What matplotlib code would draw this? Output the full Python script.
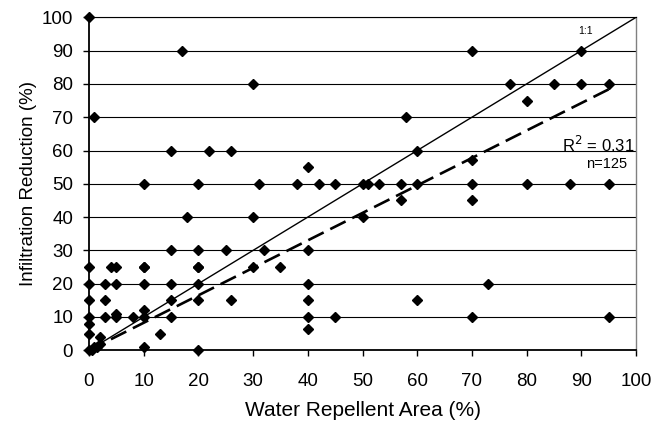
import numpy as np
import matplotlib.pyplot as plt

plt.rcParams['font.family'] = ['Liberation Sans', 'DejaVu Sans']

# water repellent area (%) and infiltration reduction (%)
area = [0, 0, 0, 0, 0, 0, 0, 0, 0.5, 1, 1, 1.5, 2, 2,
        3, 3, 3, 4, 5, 5, 5, 5, 8,
        10, 10, 10, 10, 10, 10, 10, 13,
        15, 15, 15, 15, 15, 17, 18,
        20, 20, 20, 20, 20, 20, 20, 22, 25, 26, 26,
        30, 30, 30, 31, 32, 35, 38,
        40, 40, 40, 40, 40, 40, 42, 45, 45,
        50, 50, 51, 53, 57, 57, 58, 60, 60, 60,
        70, 70, 70, 70, 70, 73, 77, 80, 80, 85, 88, 90, 90, 95, 95, 95]
reduction = [100, 25, 20, 15, 10, 8, 5, 0, 0, 70, 1, 1, 4, 2,
             20, 15, 10, 25, 25, 20, 11, 10, 10,
             50, 25, 25, 20, 12, 10, 1, 5,
             60, 30, 20, 15, 10, 90, 40,
             50, 30, 25, 25, 20, 15, 0, 60, 30, 60, 15,
             80, 40, 25, 50, 30, 25, 50,
             55, 30, 20, 15, 10, 6.5, 50, 50, 10,
             50, 40, 50, 50, 50, 45, 70, 60, 50, 15,
             90, 57, 50, 45, 10, 20, 80, 75, 50, 80, 50, 90, 80, 80, 50, 10]

trend_slope = 0.825
r2_text = 'R$^2$ = 0.31'
n_text = 'n=125'

fig = plt.figure(figsize=(6.52, 4.23), dpi=100)
ax = fig.add_axes([0.1365, 0.172, 0.839, 0.787])

ax.set_xlim(0, 100)
ax.set_ylim(0, 100)
ax.set_xticks(np.arange(0, 101, 10))
ax.set_yticks(np.arange(0, 101, 10))

ax.grid(axis='y', color='black', lw=0.8)
ax.set_axisbelow(True)

# 1:1 line and linear trend through origin
ax.plot([0, 100], [0, 100], color='black', lw=1.0, zorder=2)
tx = np.array([0, max(area)])
ax.plot(tx, trend_slope * tx, color='black', lw=1.9, dashes=(6.5, 2.8), zorder=2)

ax.plot(area, reduction, 'D', color='black', ms=5, zorder=3, clip_on=False)

ax.text(90.8, 95.9, '1:1', fontsize=7.5, ha='center', va='center')
ax.text(99.7, 61.6, r2_text, fontsize=12, ha='right', va='center')
ax.text(98.3, 55.8, n_text, fontsize=10.5, ha='right', va='center')

for s in ['left', 'bottom']:
    ax.spines[s].set_linewidth(1.3)
ax.spines['top'].set_linewidth(0.8)
ax.spines['right'].set_color('#808080')
ax.spines['right'].set_linewidth(1.0)

ax.tick_params(axis='x', direction='out', length=4.5, width=1, pad=12, labelsize=13.5)
ax.tick_params(axis='y', direction='out', length=4.5, width=1, pad=7, labelsize=13.5)
ax.set_xlabel('Water Repellent Area (%)', fontsize=15, labelpad=8)
ax.set_ylabel('Infiltration Reduction (%)', fontsize=13.5, labelpad=3)

fig.savefig('out.png', dpi=100)
